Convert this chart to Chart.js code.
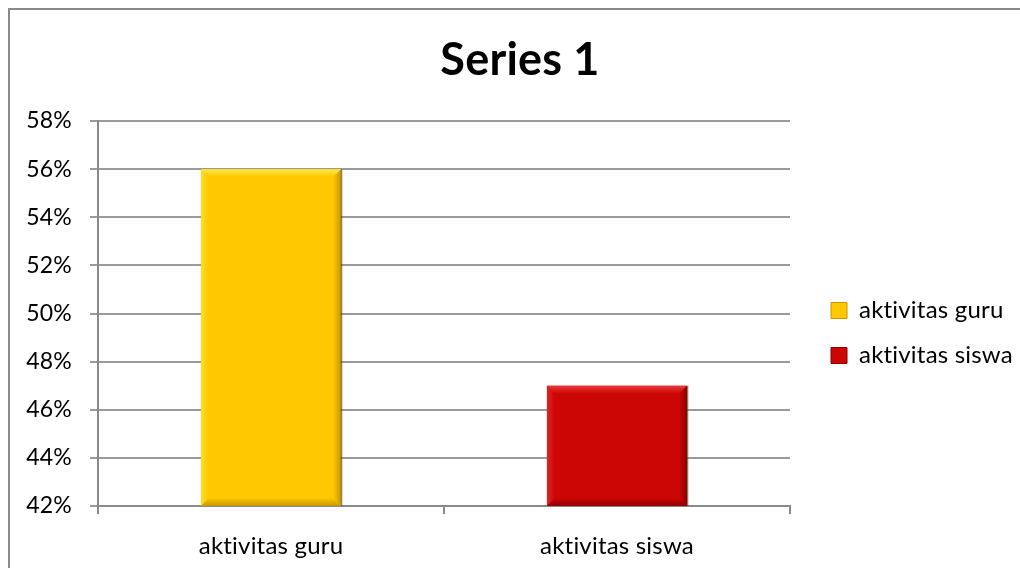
<!DOCTYPE html>
<html>
<head>
<meta charset="utf-8">
<script src="https://cdn.jsdelivr.net/npm/chart.js@4/dist/chart.umd.min.js"></script>
<style>
  html, body { margin: 0; padding: 0; background: #fff; }
  #wrap { position: relative; width: 1020px; height: 568px; overflow: hidden; }
  #frame { position: absolute; left: 8px; top: 8px; width: 1100px; height: 700px;
           border-left: 2px solid #8a8a8a; border-top: 2px solid #8a8a8a; }
  canvas { position: absolute; left: 0; top: 0; }
</style>
</head>
<body>
<div id="wrap">
  <div id="frame"></div>
  <canvas id="myChart" width="1040" height="568"></canvas>
</div>
<script>
var categories = ['aktivitas guru', 'aktivitas siswa'];
var values = [56, 47];
var yTicks = { min: 42, max: 58, step: 2 };

// face, light edge, dark edge per bar
var barColors = ['#ffc800', '#cc0505'];
var lightEdges = ['#ffe94a', '#ec3a3a'];
var darkEdges = ['#c99600', '#8e0000'];

var FONT = 'Lato, "Open Sans", sans-serif';

// no ligatures in canvas text
function plainText(ctx) {
  ctx.letterSpacing = '0.2px';
  ctx.textRendering = 'optimizeSpeed';
}
var textPlugin = {
  id: 'plainText',
  beforeUpdate: function (chart) { plainText(chart.ctx); },
  beforeDraw: function (chart) { plainText(chart.ctx); }
};

// fixed legend width, then shift it a little off the plot
var legendPlugin = {
  id: 'legendPlace',
  beforeLayout: function (chart) {
    var lg = chart.legend;
    if (lg && !lg._fixed) {
      var fit = lg.fit;
      lg.fit = function () { fit.call(this); this.width = 241; };
      lg._fixed = true;
    }
  },
  afterLayout: function (chart) {
    var lg = chart.legend;
    lg.left += 20; lg.right += 20;
    lg.top += 49; lg.bottom += 49;
  }
};

// bevelled look drawn on top of each bar, from the bar element's own geometry
var bevelPlugin = {
  id: 'bevel',
  afterDatasetsDraw: function (chart) {
    var ctx = chart.ctx;
    var area = chart.chartArea;
    var meta = chart.getDatasetMeta(0);
    meta.data.forEach(function (bar, i) {
      var p = bar.getProps(['x', 'y', 'base', 'width'], true);
      var l = p.x - p.width / 2, r = p.x + p.width / 2;
      var t = Math.max(Math.min(p.y, p.base), area.top);
      var b = Math.min(Math.max(p.y, p.base), area.bottom);
      var d = 8;
      ctx.save();
      function quad(pts, fill) {
        ctx.beginPath();
        ctx.moveTo(pts[0][0], pts[0][1]);
        for (var k = 1; k < pts.length; k++) ctx.lineTo(pts[k][0], pts[k][1]);
        ctx.closePath();
        ctx.fillStyle = fill;
        ctx.fill();
      }
      var g = ctx.createLinearGradient(0, t, 0, t + d);
      g.addColorStop(0, lightEdges[i]);
      g.addColorStop(1, barColors[i]);
      quad([[l, t], [r, t], [r - d, t + d], [l + d, t + d]], g);
      g = ctx.createLinearGradient(l, 0, l + d, 0);
      g.addColorStop(0, lightEdges[i]);
      g.addColorStop(1, barColors[i]);
      ctx.globalAlpha = 0.6;
      quad([[l, t], [l + d, t + d], [l + d, b - d], [l, b]], g);
      ctx.globalAlpha = 1;
      g = ctx.createLinearGradient(r, 0, r - d, 0);
      g.addColorStop(0, darkEdges[i]);
      g.addColorStop(1, barColors[i]);
      quad([[r, t], [r, b], [r - d, b - d], [r - d, t + d]], g);
      g = ctx.createLinearGradient(0, b, 0, b - d);
      g.addColorStop(0, darkEdges[i]);
      g.addColorStop(1, barColors[i]);
      quad([[l, b], [r, b], [r - d, b - d], [l + d, b - d]], g);
      ctx.strokeStyle = 'rgba(60,40,0,0.55)';
      ctx.lineWidth = 1.5;
      ctx.beginPath();
      ctx.moveTo(r + 0.5, t);
      ctx.lineTo(r + 0.5, b);
      ctx.stroke();
      ctx.restore();
    });
  }
};

var ctx = document.getElementById('myChart').getContext('2d');
var myChart = new Chart(ctx, {
  type: 'bar',
  data: {
    labels: categories,
    datasets: [{
      label: 'Series 1',
      data: values,
      backgroundColor: barColors,
      borderWidth: 0,
      categoryPercentage: 1,
      barPercentage: 0.405
    }]
  },
  options: {
    responsive: false,
    animation: false,
    layout: { padding: { left: 9, right: 9, top: 0, bottom: 0 } },
    plugins: {
      title: {
        display: true,
        text: 'Series 1',
        color: '#000',
        font: { family: FONT, size: 45, weight: 'bold' },
        padding: { top: 33, bottom: 34 }
      },
      legend: {
        position: 'right',
        labels: {
          color: '#000',
          font: { family: FONT, size: 24 },
          boxWidth: 16,
          boxHeight: 16,
          padding: 21,
          generateLabels: function (chart) {
            return categories.map(function (c, i) {
              return {
                text: c,
                fillStyle: barColors[i],
                strokeStyle: darkEdges[i],
                fontColor: '#000',
                lineWidth: 1,
                index: i
              };
            });
          }
        }
      },
      tooltip: { enabled: false }
    },
    scales: {
      x: {
        afterFit: function (s) { s.height = 62; },
        grid: { display: true, drawOnChartArea: false, drawTicks: true, tickLength: 8, color: '#8a8a8a', lineWidth: 2 },
        border: { color: '#8a8a8a', width: 2 },
        ticks: { color: '#000', font: { family: FONT, size: 24 }, padding: 18 }
      },
      y: {
        min: yTicks.min,
        max: yTicks.max,
        afterFit: function (s) { s.width = 89; },
        grid: { color: '#9a9a9a', lineWidth: 2, tickLength: 8 },
        border: { color: '#8a8a8a', width: 2 },
        ticks: {
          stepSize: yTicks.step,
          color: '#000',
          font: { family: FONT, size: 23 },
          padding: 18,
          callback: function (v) { return v + '%'; }
        }
      }
    }
  },
  plugins: [textPlugin, legendPlugin, bevelPlugin]
});
</script>
</body>
</html>
